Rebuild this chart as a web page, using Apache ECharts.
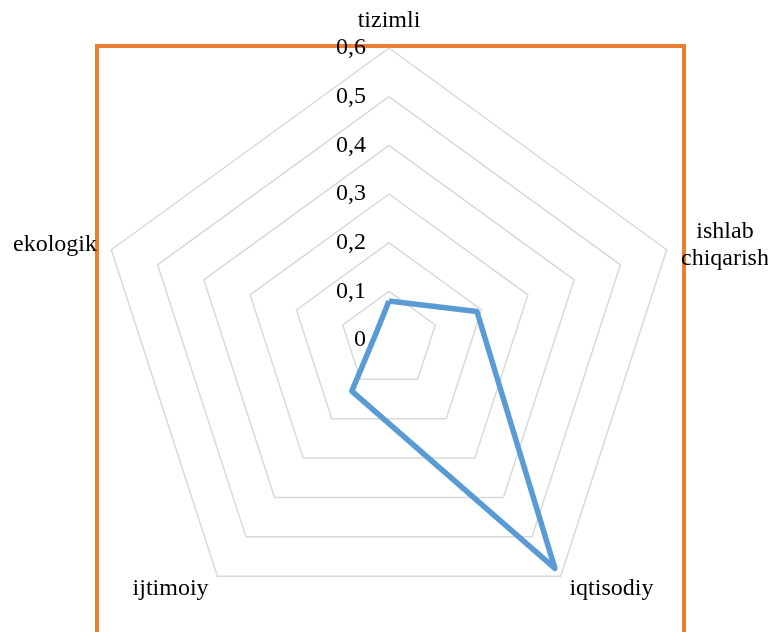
<!DOCTYPE html>
<html>
<head>
<meta charset="utf-8">
<script src="https://cdn.jsdelivr.net/npm/echarts@6/dist/echarts.min.js"></script>
<style>
html,body{margin:0;padding:0;background:#fff;}
#chart{width:768px;height:632px;}
</style>
</head>
<body>
<div id="chart"></div>
<script>
// Categories in clockwise order starting from the top
const categories = ['tizimli', 'ishlab chiqarish', 'iqtisodiy', 'ijtimoiy', 'ekologik'];
const values = [0.08, 0.19, 0.58, 0.13, 0.03];
const axisMax = 0.6;
const tickLabels = ['0', '0,1', '0,2', '0,3', '0,4', '0,5', '0,6'];

// ECharts places indicators counter-clockwise; reorder so the picture runs clockwise
const order = [0, 4, 3, 2, 1];
const indicators = order.map((i, k) => {
  const o = { name: categories[i], max: axisMax, min: 0 };
  if (k === 0) o.axisLabel = { show: true };
  return o;
});
const seriesValues = order.map(i => values[i]);

const font = "'Liberation Serif', 'Times New Roman', serif";
const chart = echarts.init(document.getElementById('chart'));
chart.setOption({
  backgroundColor: '#fff',
  animation: false,
  graphic: [{
    type: 'rect',
    z: 0,
    shape: { x: 97, y: 46, width: 587, height: 700 },
    style: { fill: 'none', stroke: '#ed7d31', lineWidth: 4 }
  }],
  radar: {
    center: [389, 340],
    radius: 292,
    startAngle: 90,
    splitNumber: 6,
    shape: 'polygon',
    indicator: indicators,
    axisName: {
      color: '#000',
      fontFamily: font,
      fontSize: 24,
      formatter: function (name) {
        if (name === 'ishlab chiqarish') return '{a|ishlab}\n{a|chiqarish}';
        return name;
      },
      rich: { a: { width: 88, align: 'center', fontFamily: font, fontSize: 24, color: '#000', lineHeight: 27 } }
    },
    nameGap: 15,
    axisLine: { show: false },
    axisTick: { show: false },
    splitArea: { show: false },
    splitLine: { lineStyle: { color: '#d9d9d9', width: 1.5 } },
    axisLabel: {
      show: false,
      color: '#000',
      fontFamily: font,
      fontSize: 24,
      margin: 23,
      formatter: function (v) {
        const idx = Math.round(v / 0.1);
        return tickLabels[idx] != null ? tickLabels[idx] : '';
      }
    }
  },
  series: [{
    type: 'radar',
    symbol: 'none',
    lineStyle: { color: '#5b9bd5', width: 5.5 },
    itemStyle: { color: '#5b9bd5' },
    data: [{ value: seriesValues }]
  }]
});
</script>
</body>
</html>
